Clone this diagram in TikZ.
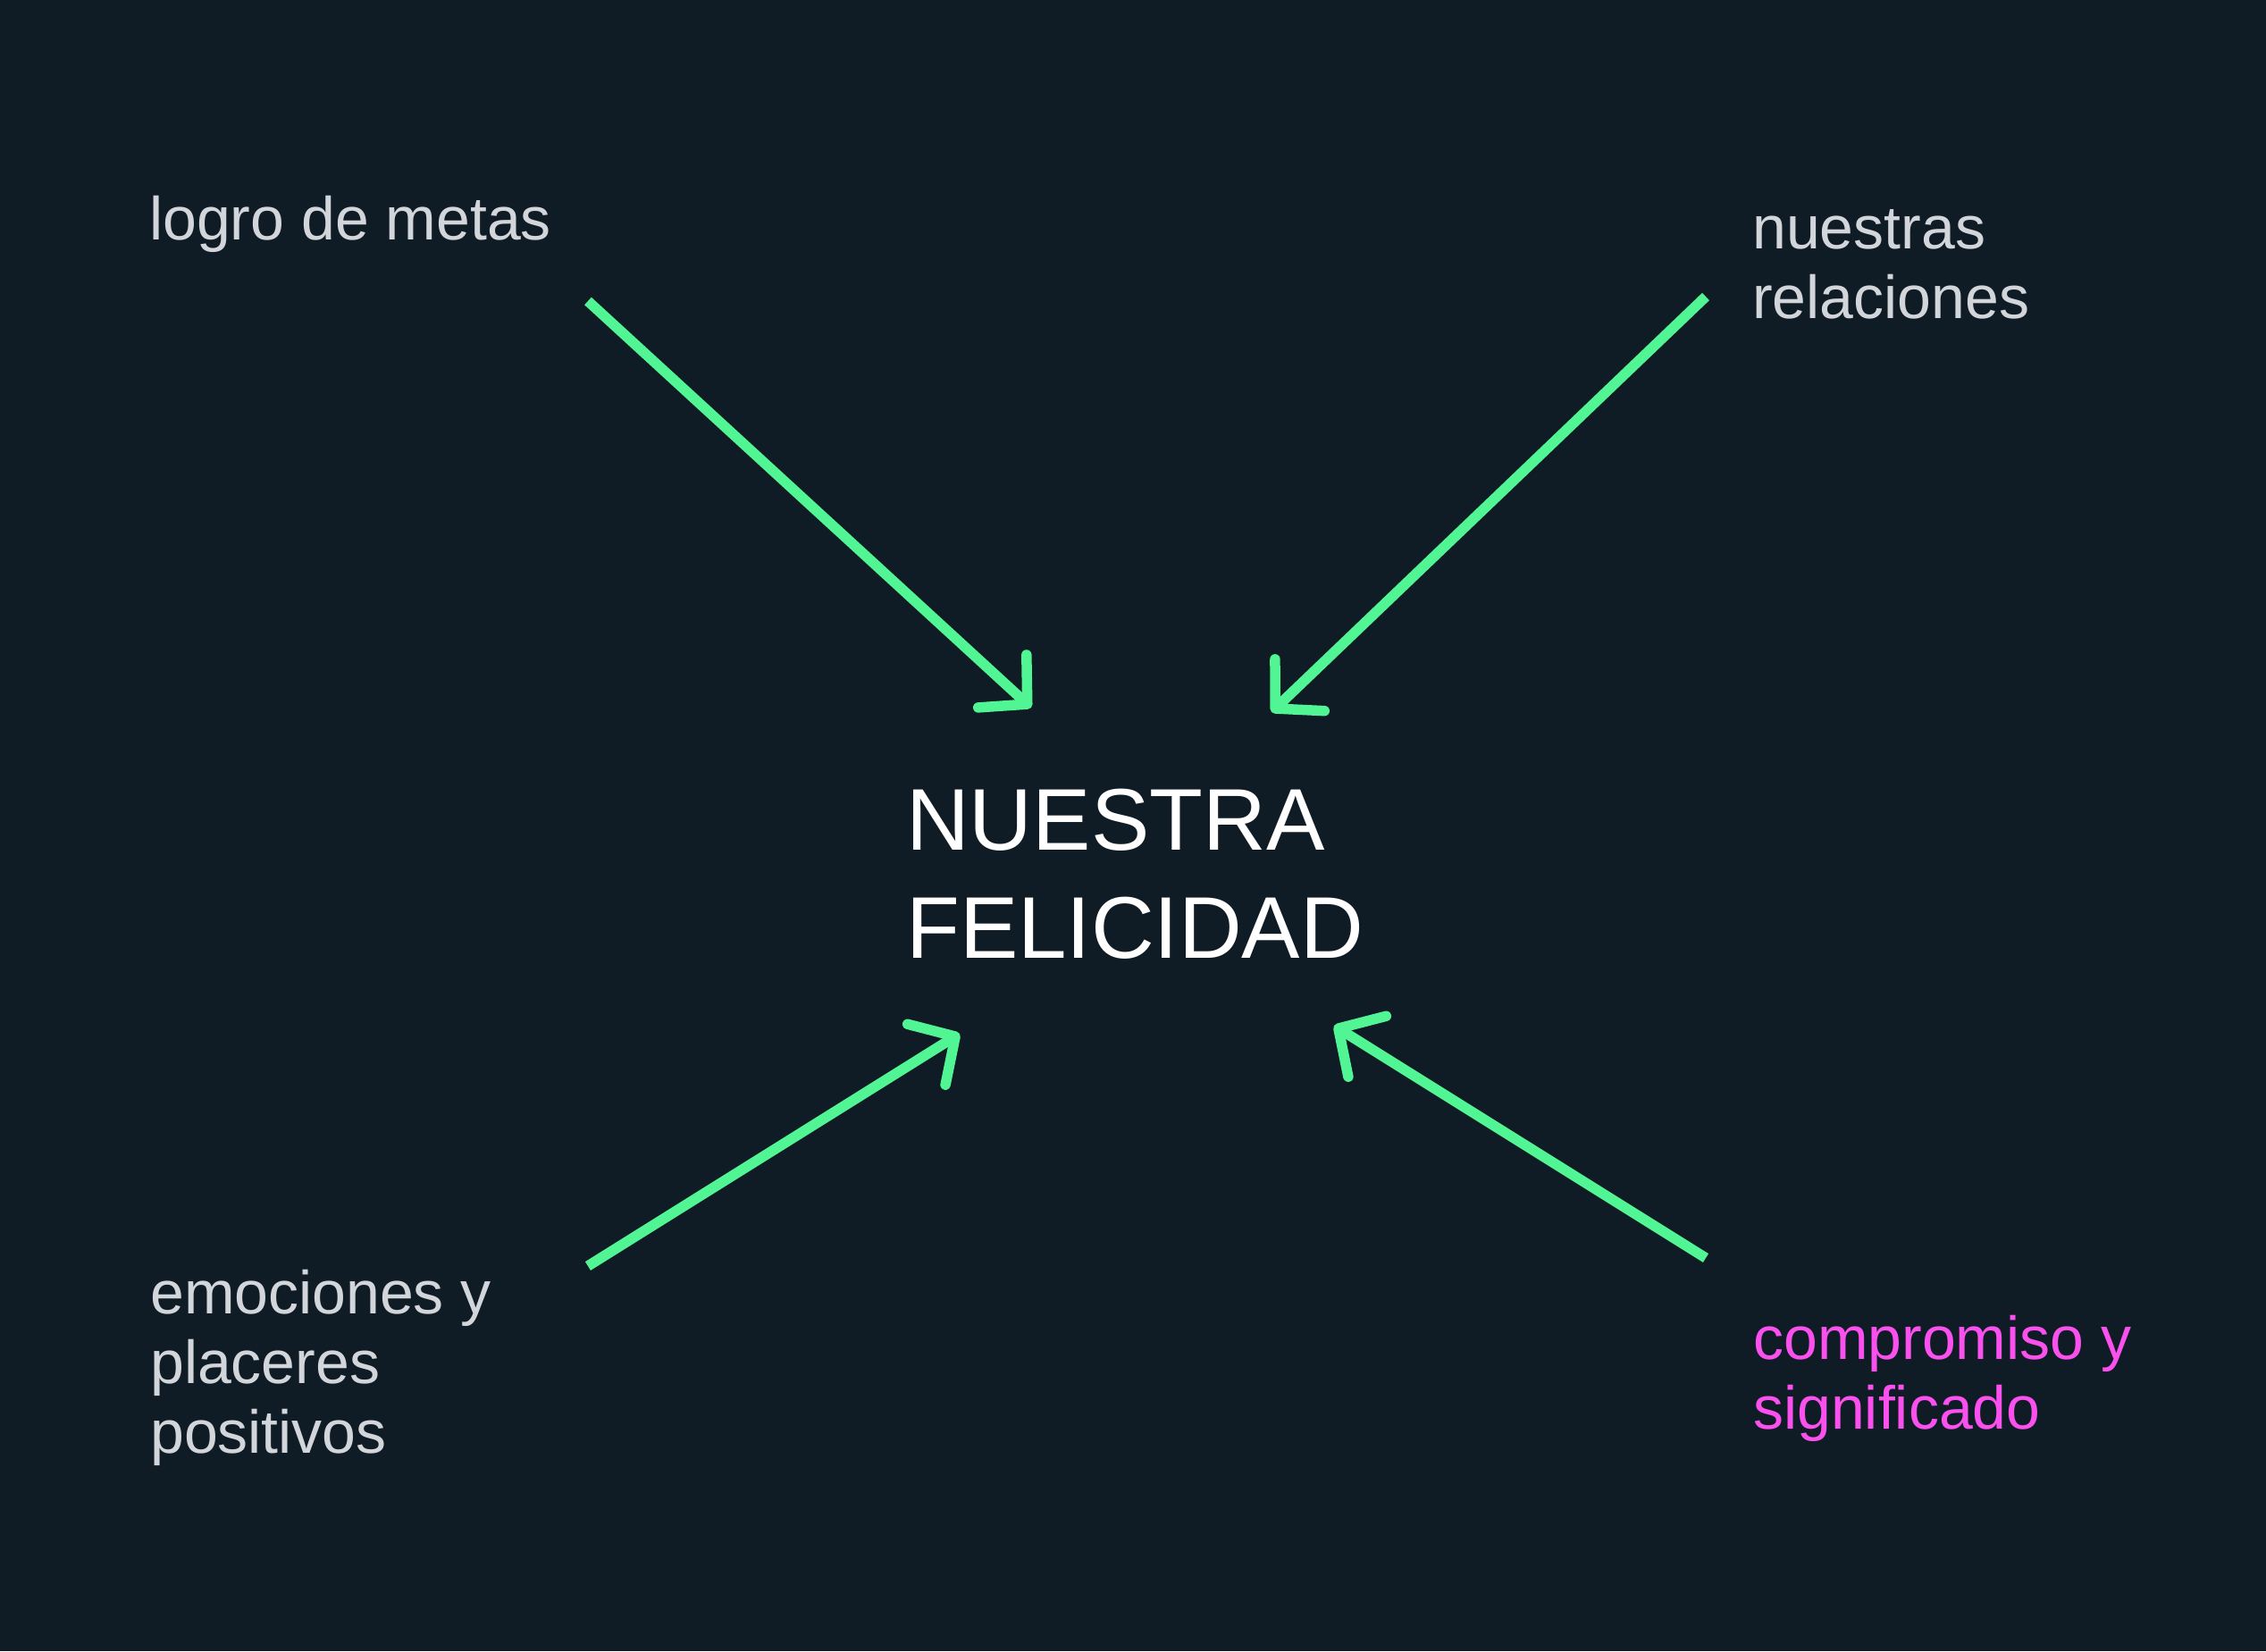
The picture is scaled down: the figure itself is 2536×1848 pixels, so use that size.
\documentclass[tikz,border=0pt]{standalone}
\usepackage{fontspec}
\setmainfont{Liberation Sans}
\usetikzlibrary{arrows.meta}
\definecolor{bg}{HTML}{0F1C25}
\definecolor{grn}{HTML}{52F594}
\definecolor{lbl}{HTML}{D2D6DA}
\definecolor{mag}{HTML}{FA50EE}
\begin{document}
\begin{tikzpicture}[x=1pt,y=-1pt,
  lab/.style={anchor=base west, inner sep=0pt, text=lbl, font=\fontsize{68}{78}\selectfont},
  title/.style={anchor=base west, inner sep=0pt, text=white, font=\fontsize{98}{121}\selectfont},
  conn/.style={draw=grn, line width=11.5pt, -{Straight Barb[length=38pt,width=80pt,round]}}]
\fill[bg] (0,0) rectangle (2536,1848);
\useasboundingbox (0,0) rectangle (2536,1848);

\node[lab] (metas) at (167,268) {logro de metas};
\node[lab] (relac) at (1961,278) {\begin{tabular}[t]{@{}l@{}}nuestras\\relaciones\end{tabular}};
\node[lab] (emoc) at (168,1470) {\begin{tabular}[t]{@{}l@{}}emociones y\\placeres\\positivos\end{tabular}};
\node[lab, text=mag] (comp) at (1962,1521) {\begin{tabular}[t]{@{}l@{}}compromiso y\\significado\end{tabular}};
\node[title] (felic) at (1014,951) {\begin{tabular}[t]{@{}l@{}}NUESTRA\\FELICIDAD\end{tabular}};

\coordinate (a1s) at (658,337);  \coordinate (a1e) at (1154,792);
\coordinate (a2s) at (1909,332); \coordinate (a2e) at (1423,797);
\coordinate (a3s) at (658,1417); \coordinate (a3e) at (1074,1157);
\coordinate (a4s) at (1909,1408); \coordinate (a4e) at (1493,1148);

\draw[conn] (a1s) -- (a1e);
\draw[conn] (a2s) -- (a2e);
\draw[conn] (a3s) -- (a3e);
\draw[conn] (a4s) -- (a4e);
\end{tikzpicture}
\end{document}
